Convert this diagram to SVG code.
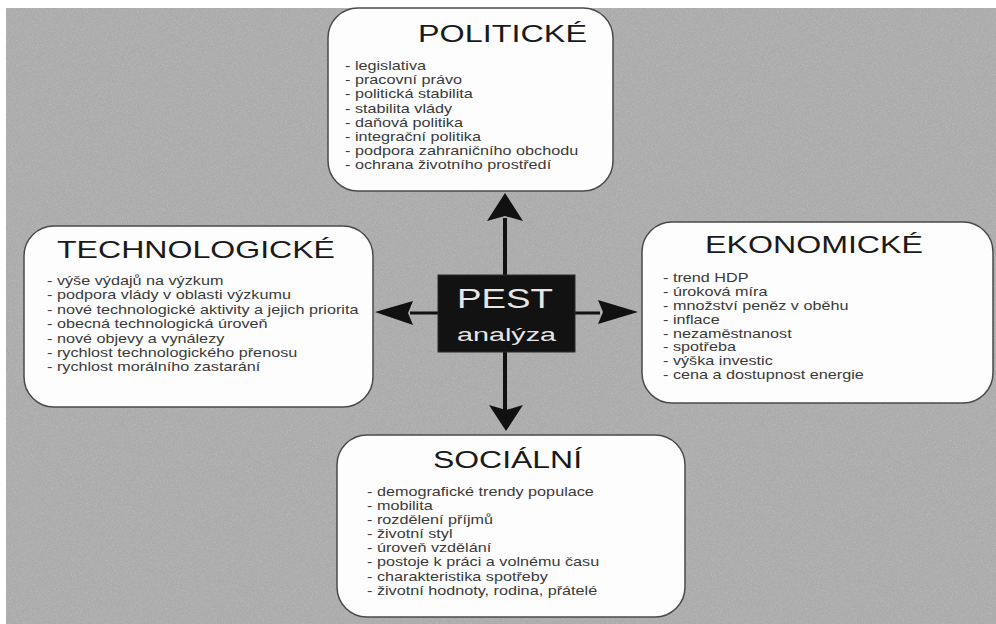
<svg xmlns="http://www.w3.org/2000/svg" width="996" height="624" viewBox="0 0 996 624">
  <defs>
    <filter id="grain" x="0" y="0" width="100%" height="100%">
      <feTurbulence type="fractalNoise" baseFrequency="1.2 0.7" numOctaves="2" seed="3" result="n"/>
      <feColorMatrix in="n" type="matrix" values="0 0 0 0 0.5  0 0 0 0 0.5  0 0 0 0 0.5  0 0 0 2.2 -0.85"/>
    </filter>
    <style>
      .card { fill: #fdfdfd; stroke: #4a4a4a; stroke-width: 1.5; }
      .title { font-family: "Liberation Sans", Arial, sans-serif; font-size: 24px; fill: #1a1a1a; }
      .item { font-family: "Liberation Sans", Arial, sans-serif; font-size: 12px; fill: #3a3a3a; }
      .core { fill: #121212; stroke: #2a2a2a; stroke-width: 1; }
      .coretxt { font-family: "Liberation Sans", Arial, sans-serif; fill: #e6e6e6; }
      .shaft { stroke: #111; fill: none; }
      .head { fill: #111; }
    </style>
  </defs>

  <rect x="0" y="0" width="996" height="624" fill="#ffffff"/>
  <rect x="6" y="8" width="990" height="616" fill="#ababab"/>
  <rect x="6" y="8" width="990" height="616" filter="url(#grain)" opacity="0.7"/>

  <g id="connectors">
    <line class="shaft" x1="505" y1="218" x2="505" y2="410" stroke-width="4"/>
    <line class="shaft" x1="410" y1="313" x2="600" y2="313" stroke-width="3"/>
    <polygon class="head" points="505,193 523,221 505,216 487,221"/>
    <polygon class="head" points="506,431 489,405 506,410 523,405"/>
    <polygon class="head" points="375,312 413,301 408,313 413,325"/>
    <polygon class="head" points="638,312 598,300 603,312 598,324"/>
  </g>

  <g id="politicke">
    <rect class="card" x="328" y="8" width="285" height="183" rx="30" ry="30"/>
    <text class="title" x="418" y="42" textLength="169" lengthAdjust="spacingAndGlyphs">POLITICKÉ</text>
    <g transform="translate(345,0) scale(1.35,1)">
      <text class="item" x="0" y="70">- legislativa</text>
      <text class="item" x="0" y="84.2">- pracovní právo</text>
      <text class="item" x="0" y="98.4">- politická stabilita</text>
      <text class="item" x="0" y="112.6">- stabilita vlády</text>
      <text class="item" x="0" y="126.8">- daňová politika</text>
      <text class="item" x="0" y="141">- integrační politika</text>
      <text class="item" x="0" y="155.2">- podpora zahraničního obchodu</text>
      <text class="item" x="0" y="169.4">- ochrana životního prostředí</text>
    </g>
  </g>

  <g id="technologicke">
    <rect class="card" x="24" y="226" width="349" height="181" rx="30" ry="30"/>
    <text class="title" x="57" y="258" textLength="278" lengthAdjust="spacingAndGlyphs">TECHNOLOGICKÉ</text>
    <g transform="translate(47,0) scale(1.35,1)">
      <text class="item" x="0" y="285">- výše výdajů na výzkum</text>
      <text class="item" x="0" y="299.4">- podpora vlády v oblasti výzkumu</text>
      <text class="item" x="0" y="313.8">- nové technologické aktivity a jejich priorita</text>
      <text class="item" x="0" y="328.2">- obecná technologická úroveň</text>
      <text class="item" x="0" y="342.6">- nové objevy a vynálezy</text>
      <text class="item" x="0" y="357">- rychlost technologického přenosu</text>
      <text class="item" x="0" y="371.4">- rychlost morálního zastarání</text>
    </g>
  </g>

  <g id="ekonomicke">
    <rect class="card" x="642" y="222" width="351" height="181" rx="30" ry="30"/>
    <text class="title" x="705" y="253" textLength="218" lengthAdjust="spacingAndGlyphs">EKONOMICKÉ</text>
    <g transform="translate(663,0) scale(1.35,1)">
      <text class="item" x="0" y="282">- trend HDP</text>
      <text class="item" x="0" y="295.9">- úroková míra</text>
      <text class="item" x="0" y="309.8">- množství peněz v oběhu</text>
      <text class="item" x="0" y="323.7">- inflace</text>
      <text class="item" x="0" y="337.6">- nezaměstnanost</text>
      <text class="item" x="0" y="351.5">- spotřeba</text>
      <text class="item" x="0" y="365.4">- výška investic</text>
      <text class="item" x="0" y="379.3">- cena a dostupnost energie</text>
    </g>
  </g>

  <g id="socialni">
    <rect class="card" x="337" y="435" width="348" height="182" rx="30" ry="30"/>
    <text class="title" x="433" y="468" textLength="149" lengthAdjust="spacingAndGlyphs">SOCIÁLNÍ</text>
    <g transform="translate(367,0) scale(1.35,1)">
      <text class="item" x="0" y="496">- demografické trendy populace</text>
      <text class="item" x="0" y="510.1">- mobilita</text>
      <text class="item" x="0" y="524.2">- rozdělení příjmů</text>
      <text class="item" x="0" y="538.3">- životní styl</text>
      <text class="item" x="0" y="552.4">- úroveň vzdělání</text>
      <text class="item" x="0" y="566.5">- postoje k práci a volnému času</text>
      <text class="item" x="0" y="580.6">- charakteristika spotřeby</text>
      <text class="item" x="0" y="594.7">- životní hodnoty, rodina, přátelé</text>
    </g>
  </g>

  <g id="pest">
    <rect class="core" x="438" y="275" width="137" height="77"/>
    <text class="coretxt" x="457" y="308" font-size="27" textLength="96" lengthAdjust="spacingAndGlyphs">PEST</text>
    <text class="coretxt" x="457" y="341" font-size="18" textLength="99" lengthAdjust="spacingAndGlyphs">analýza</text>
  </g>
</svg>
